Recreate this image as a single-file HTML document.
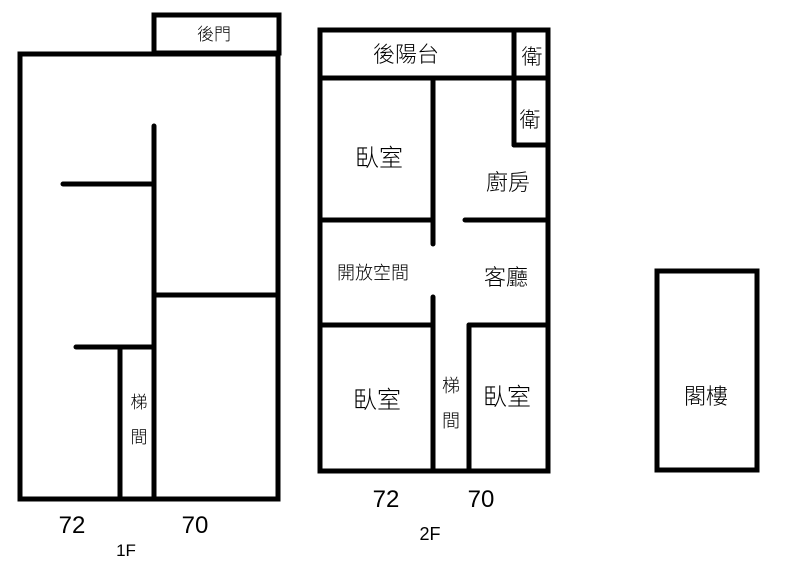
<!DOCTYPE html>
<html><head><meta charset="utf-8"><style>
html,body{margin:0;padding:0;background:#fff;}
svg{display:block}
text{font-family:"Liberation Sans","Noto Sans CJK TC",sans-serif;fill:#000;font-weight:300;}
</style></head><body>
<svg width="799" height="568" viewBox="0 0 799 568" xmlns="http://www.w3.org/2000/svg">
<g fill="none" stroke="#000" stroke-width="5" stroke-linecap="round" stroke-linejoin="miter">
<rect x="20" y="54" width="258" height="445" stroke-linecap="butt"/>
<rect x="154" y="15" width="125" height="38"/>
<line x1="154" y1="126" x2="154" y2="499"/>
<line x1="63" y1="184" x2="154" y2="184"/>
<line x1="154" y1="295" x2="278" y2="295"/>
<line x1="76" y1="347" x2="154" y2="347"/>
<line x1="120" y1="347" x2="120" y2="499"/>
<rect x="320" y="30" width="228" height="441"/>
<line x1="320" y1="78" x2="548" y2="78"/>
<line x1="514" y1="30" x2="514" y2="145"/>
<line x1="514" y1="145" x2="548" y2="145"/>
<line x1="433" y1="78" x2="433" y2="244"/>
<line x1="433" y1="297" x2="433" y2="471"/>
<line x1="320" y1="220" x2="433" y2="220"/>
<line x1="465" y1="220" x2="548" y2="220"/>
<line x1="320" y1="325" x2="433" y2="325"/>
<line x1="469" y1="325" x2="548" y2="325"/>
<line x1="469" y1="325" x2="469" y2="471"/>
<rect x="657" y="271" width="100" height="199"/>
</g>
<g text-anchor="middle">
<text x="214" y="40" font-size="17">後門</text>
<text x="139" y="408" font-size="17">梯</text>
<text x="139" y="443" font-size="17">間</text>
<text x="72" y="533" font-size="24">72</text>
<text x="195" y="533" font-size="24">70</text>
<text x="126" y="556" font-size="17">1F</text>
<text x="406" y="62" font-size="22">後陽台</text>
<text x="532" y="64" font-size="21">衛</text>
<text x="530" y="127" font-size="21">衛</text>
<text x="379" y="166" font-size="24">臥室</text>
<text x="508" y="190" font-size="22">廚房</text>
<text x="373" y="279" font-size="18">開放空間</text>
<text x="506" y="285" font-size="22">客廳</text>
<text x="377" y="408" font-size="24">臥室</text>
<text x="507" y="405" font-size="24">臥室</text>
<text x="451" y="392" font-size="18">梯</text>
<text x="451" y="427" font-size="18">間</text>
<text x="386" y="507" font-size="24">72</text>
<text x="481" y="507" font-size="24">70</text>
<text x="430" y="540" font-size="18">2F</text>
<text x="706" y="404" font-size="22">閣樓</text>
</g>
</svg>
</body></html>
